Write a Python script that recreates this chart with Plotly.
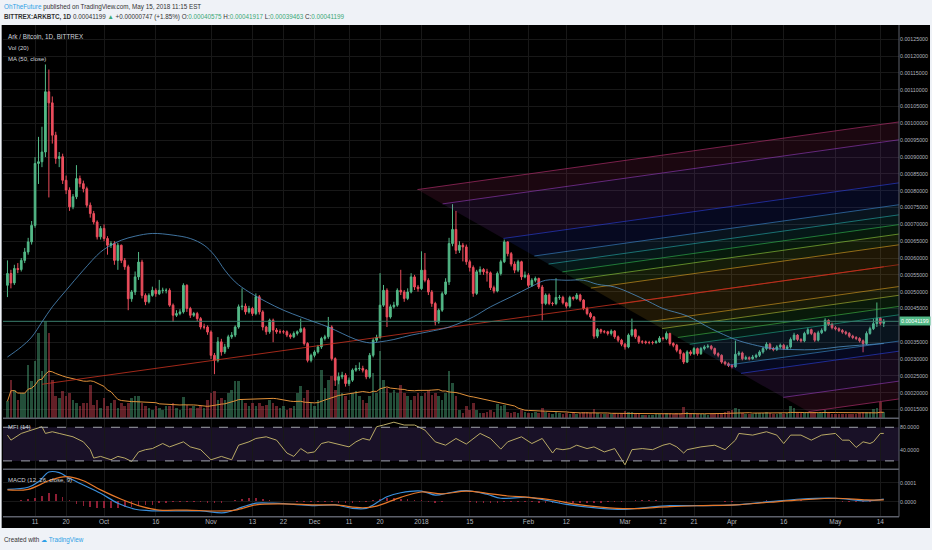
import numpy as np
import pandas as pd
import plotly.graph_objects as go

# ARK / BTC daily candles (BITTREX), 3 Sep 2017 .. 15 May 2018
# all prices in micro-BTC (1e-6 BTC)
START = pd.Timestamp("2017-09-03")
first_open = 519

closes = [
    554, 526, 569, 566, 593, 618, 648, 697, 881, 886,
    915, 1094, 1061, 965, 896, 901, 831, 802, 752, 782,
    836, 821, 806, 757, 732, 707, 663, 688, 658, 638,
    643, 593, 638, 593, 574, 479, 499, 544, 588, 489,
    470, 489, 504, 494, 504, 504, 504, 460, 430, 435,
    440, 519, 450, 430, 435, 420, 395, 395, 380, 311,
    296, 351, 321, 336, 366, 371, 395, 455, 457, 440,
    450, 435, 485, 440, 395, 381, 415, 386, 381, 381,
    381, 371, 366, 376, 381, 390, 346, 296, 311, 321,
    336, 361, 366, 395, 301, 237, 247, 252, 227, 237,
    267, 272, 272, 267, 247, 311, 356, 364, 460, 504,
    425, 455, 460, 504, 499, 480, 499, 544, 514, 509,
    564, 534, 499, 465, 410, 445, 494, 529, 643, 685,
    623, 638, 633, 589, 572, 495, 559, 566, 559, 556,
    512, 502, 554, 589, 648, 613, 582, 564, 589, 544,
    549, 519, 534, 539, 514, 465, 490, 465, 465, 483,
    483, 467, 457, 483, 480, 490, 475, 450, 435, 425,
    368, 387, 381, 381, 376, 383, 366, 356, 344, 336,
    371, 387, 366, 351, 351, 349, 349, 349, 351, 362,
    361, 376, 346, 341, 326, 316, 291, 321, 316, 331,
    316, 331, 336, 338, 331, 316, 311, 291, 286, 281,
    277, 314, 318, 301, 304, 301, 306, 311, 321, 331,
    344, 331, 328, 336, 341, 331, 336, 358, 371, 358,
    354, 376, 387, 376, 356, 378, 385, 415, 403, 393,
    390, 385, 380, 376, 368, 364, 361, 354, 346, 376,
    390, 405, 421, 406, 412,
]
highs = [
    593, 565, 580, 585, 600, 630, 660, 710, 900, 960,
    990, 1175, 1160, 1080, 975, 915, 910, 845, 810, 790,
    876, 845, 830, 812, 765, 740, 712, 695, 700, 665,
    650, 650, 645, 640, 600, 580, 505, 560, 618, 595,
    495, 495, 515, 510, 535, 512, 510, 510, 465, 445,
    448, 525, 522, 455, 440, 440, 425, 405, 400, 385,
    318, 365, 360, 345, 372, 380, 400, 462, 510, 465,
    458, 455, 495, 490, 445, 398, 420, 420, 392, 388,
    386, 385, 376, 382, 385, 420, 395, 350, 316, 326,
    342, 366, 372, 425, 400, 305, 260, 262, 258, 245,
    272, 282, 290, 280, 270, 318, 362, 372, 555, 520,
    510, 462, 470, 510, 565, 505, 510, 555, 550, 520,
    620, 615, 540, 505, 470, 450, 500, 540, 660, 760,
    740, 650, 645, 640, 595, 578, 565, 575, 570, 568,
    560, 518, 560, 595, 655, 650, 618, 590, 595, 592,
    560, 555, 540, 545, 542, 520, 495, 495, 470, 540,
    490, 488, 470, 488, 486, 496, 494, 478, 455, 440,
    428, 392, 390, 386, 384, 388, 386, 370, 360, 348,
    376, 420, 390, 370, 356, 355, 354, 354, 356, 368,
    366, 382, 378, 350, 345, 330, 320, 326, 326, 336,
    334, 336, 341, 344, 342, 334, 320, 314, 295, 290,
    285, 355, 324, 322, 310, 308, 312, 316, 326, 336,
    350, 348, 336, 341, 346, 345, 342, 364, 378, 374,
    362, 381, 393, 390, 380, 384, 391, 421, 418, 408,
    398, 394, 389, 384, 380, 372, 368, 365, 358, 382,
    396, 420, 468, 425, 419,
]
lows = [
    484, 510, 520, 555, 560, 585, 610, 640, 690, 820,
    870, 900, 780, 940, 880, 870, 820, 790, 740, 745,
    775, 810, 795, 750, 720, 700, 655, 655, 650, 610,
    630, 580, 565, 585, 565, 445, 470, 490, 535, 480,
    460, 465, 485, 485, 490, 495, 495, 455, 410, 425,
    430, 435, 440, 422, 425, 412, 388, 388, 372, 300,
    255, 290, 310, 315, 330, 360, 365, 390, 445, 432,
    435, 428, 430, 432, 385, 372, 375, 350, 375, 375,
    375, 365, 360, 362, 370, 378, 340, 290, 290, 305,
    316, 330, 355, 360, 295, 220, 225, 240, 218, 220,
    232, 262, 265, 260, 240, 242, 305, 350, 360, 455,
    395, 420, 450, 455, 490, 470, 475, 495, 505, 500,
    505, 528, 490, 455, 400, 405, 440, 490, 520, 635,
    612, 615, 590, 580, 560, 485, 490, 550, 550, 530,
    505, 495, 498, 548, 585, 605, 575, 555, 558, 535,
    540, 512, 514, 528, 508, 415, 460, 460, 458, 460,
    476, 462, 450, 452, 474, 476, 470, 445, 430, 420,
    360, 362, 375, 376, 370, 370, 360, 350, 338, 328,
    332, 366, 360, 345, 345, 344, 344, 343, 345, 348,
    355, 356, 340, 335, 320, 300, 285, 288, 310, 312,
    310, 312, 326, 332, 326, 311, 305, 286, 281, 276,
    272, 274, 309, 296, 297, 296, 298, 302, 306, 316,
    326, 327, 323, 324, 331, 327, 327, 331, 354, 353,
    349, 350, 372, 371, 351, 352, 374, 381, 398, 388,
    385, 380, 375, 371, 363, 359, 356, 349, 320, 342,
    372, 386, 395, 400, 395,
]
# volume, relative units
volumes = [
    17, 38, 28, 18, 25, 25, 53, 37, 57, 85,
    47, 97, 85, 38, 22, 20, 27, 22, 25, 18,
    15, 12, 15, 15, 33, 13, 18, 10, 20, 12,
    15, 18, 10, 15, 12, 15, 20, 22, 22, 15,
    12, 10, 8, 12, 10, 8, 12, 12, 15, 10,
    8, 21, 13, 10, 12, 10, 12, 10, 18, 25,
    27, 18, 20, 18, 25, 28, 37, 37, 18, 15,
    12, 15, 12, 15, 12, 13, 18, 15, 12, 10,
    12, 8, 10, 12, 25, 32, 20, 28, 15, 12,
    18, 48, 30, 38, 42, 28, 42, 25, 22, 18,
    25, 27, 22, 18, 15, 22, 45, 25, 67, 38,
    30, 25, 28, 25, 33, 25, 22, 18, 22, 25,
    22, 25, 28, 23, 25, 22, 18, 25, 47, 35,
    22, 8, 5, 12, 8, 15, 8, 5, 5, 6,
    8, 6, 14, 12, 13, 6, 5, 6, 5, 8,
    6, 5, 5, 6, 5, 10, 6, 5, 4, 6,
    5, 4, 5, 4, 5, 4, 5, 6, 6, 5,
    9, 5, 4, 4, 4, 4, 5, 4, 5, 7,
    6, 6, 4, 4, 3, 3, 3, 3, 4, 4,
    4, 5, 5, 4, 5, 5, 11, 6, 5, 5,
    4, 4, 4, 3, 4, 4, 4, 5, 6, 7,
    8, 10, 9, 5, 4, 4, 4, 5, 5, 5,
    6, 5, 4, 4, 5, 4, 5, 12, 10, 6,
    5, 6, 6, 5, 6, 5, 6, 8, 5, 4,
    4, 4, 4, 4, 4, 4, 4, 5, 6, 6,
    6, 9, 10, 16, 6,
]

# MA (50, close) as drawn, day index from START
ma50_days = [0, 4, 7, 10, 13, 17, 22, 27, 30, 33, 37, 42, 48, 53, 57, 60, 63, 66, 70, 75,
             80, 85, 89, 93, 97, 101, 105, 108, 112, 117, 122, 128, 135, 140, 146, 152, 156,
             162, 167, 171, 176, 181, 186, 190, 197, 204, 211, 216, 222, 228, 234, 241, 247, 254]
ma50_vals = [306, 336, 365, 410, 455, 504, 564, 618, 638, 653, 665, 673, 668, 658, 638, 608, 564, 529, 499, 470,
             445, 425, 410, 395, 376, 358, 348, 351, 358, 371, 381, 395, 425, 455, 485, 516, 534,
             534, 534, 522, 514, 494, 470, 450, 428, 390, 358, 343, 331, 328, 328, 336, 341, 346]

# MFI (14)
mfi_days = [0, 1, 4, 7, 10, 11, 13, 15, 19, 22, 24, 25, 27, 30, 32, 34, 36, 38, 40, 42,
            45, 47, 51, 53, 56, 59, 62, 65, 67, 70, 72, 75, 78, 81, 83, 85, 87, 89, 91, 93,
            95, 99, 101, 103, 105, 107, 109, 112, 115, 118, 121, 124, 127, 130, 133, 137, 140, 143, 145, 149,
            152, 155, 158, 159, 161, 163, 165, 168, 170, 173, 176, 179, 181, 184, 187, 190, 192, 194, 196, 197,
            201, 205, 208, 211, 212, 216, 220, 223, 225, 227, 230, 233, 236, 240, 242, 244, 246, 248, 250, 251,
            253, 254]
mfi_vals = [66, 57, 69, 75, 81, 69, 72, 69, 63, 54, 40, 25, 28, 22, 28, 25, 19, 36, 40, 42,
            51, 45, 54, 45, 40, 22, 28, 22, 48, 54, 60, 63, 57, 34, 28, 42, 34, 36, 51, 54,
            51, 45, 54, 60, 57, 81, 84, 89, 84, 84, 75, 54, 48, 60, 50, 69, 60, 41, 54, 63,
            51, 60, 34, 42, 40, 42, 48, 42, 45, 36, 42, 13, 40, 42, 40, 48, 51, 45, 34, 40,
            45, 48, 40, 57, 69, 66, 72, 66, 51, 66, 66, 57, 66, 69, 57, 57, 44, 54, 51, 54,
            69, 69]

# MACD (12, 26, close, 9), micro-BTC
macd_days = [0, 6, 9, 12, 15, 18, 22, 27, 32, 37, 41, 48, 56, 63, 68, 72, 77, 83, 89, 95, 100, 104,
             106, 110, 114, 120, 124, 128, 133, 139, 143, 151, 158, 162, 172, 179, 192, 201, 211, 221,
             230, 240, 249, 254]
macd_vals = [65, 76, 105, 156, 153, 123, 88, 44, -8, -40, -47, -49, -49, -58, -29, -8, -8, -14, -21, -17, -35, -35,
             -17, 26, 47, 56, 35, 47, 58, 39, 18, 23, 0, -14, -35, -40, -21, -21, -17, 0,
             14, 18, 4, 13]
signal_days = [0, 6, 12, 17, 22, 27, 33, 39, 44, 52, 60, 66, 72, 80, 89, 95, 103, 107, 114, 120, 126,
               133, 139, 145, 151, 158, 164, 172, 180, 192, 201, 211, 221, 230, 240, 249, 254]
signal_vals = [62, 65, 110, 132, 110, 62, 13, -26, -44, -44, -49, -44, -17, -12, -17, -17, -32, -23, 23, 51, 41,
               56, 44, 30, 23, 9, -12, -29, -37, -26, -21, -17, -3, 9, 18, 9, 9]
# histogram, every second day (day 0, 2, 4 ... 254)
hist_vals = [3, 4, 6, 10, 17, 30, 42, 39, 25, 5,
             -14, -22, -28, -33, -35, -37, -36, -32, -28, -23,
             -20, -17, -11, -7, -5, -4, -3, -4, -5, -7,
             -8, -6, 2, 8, 14, 17, 16, 12, 8, 4,
             2, 0, -2, -4, -5, -4, -2, -3, -6, -7,
             -6, -4, -1, 5, 12, 17, 16, 14, 10, 8,
             5, -2, -6, -4, 2, 3, 0, -3, -6, -7,
             -8, -6, -3, -2, -2, -3, -5, -7, -9, -10,
             -9, -8, -7, -6, -6, -7, -6, -5, -4, -3,
             2, 5, 6, 5, 5, 4, 3, 2, 0, 0,
             1, 1, 0, 0, -1, -1, 2, 3, 4, 4,
             5, 4, 4, 4, 5, 5, 4, 3, 2, 1,
             0, -2, -3, -4, -4, -2, 1, 3]

# drawings: trend line + fib channel (levels valued on 2018-05-15 = day 254)
trend_days = [10, 254]
trend_vals = [225, 574]
chan_levels = [998, 945, 817, 752, 722, 693, 665, 633, 574, 509, 483, 450, 425, 347, 317, 228, 175]
chan_colors = ["#b4306e", "#8e3bb4", "#2b3fd4", "#3a86c8", "#25a3a3", "#2fb04e", "#8cc43a", "#d39a22",
               "#c8321f", "#d39a22", "#a9b534", "#3fb044", "#21a283", "#3a86c8", "#2b3fd4", "#8e3bb4", "#b4306e"]
chan_slope = 1.44            # per day
chan_edge = (119.06, 802)    # left edge of the channel (diagonal)
chan_edge_slope = -5.82
last_price = 0.00041199

x_tick_dates = ["2017-09-11", "2017-09-20", "2017-10-01", "2017-10-16", "2017-11-01", "2017-11-13",
                "2017-11-22", "2017-12-01", "2017-12-11", "2017-12-20", "2018-01-01", "2018-01-15",
                "2018-02-01", "2018-02-12", "2018-03-01", "2018-03-12", "2018-03-21", "2018-04-01",
                "2018-04-16", "2018-05-01", "2018-05-14"]
x_tick_text = ["11", "20", "Oct", "16", "Nov", "13", "22", "Dec", "11", "20", "2018", "15",
               "Feb", "12", "Mar", "12", "21", "Apr", "16", "May", "14"]
price_ticks = [150, 200, 250, 300, 350, 400, 450, 500, 550, 600, 650, 700, 750, 800, 850, 900,
               950, 1000, 1050, 1100, 1150, 1200, 1250]

assert len(closes) == len(highs) == len(lows) == len(volumes) == 255
assert len(ma50_days) == len(ma50_vals) and len(mfi_days) == len(mfi_vals)
assert len(macd_days) == len(macd_vals) and len(signal_days) == len(signal_vals)
assert len(hist_vals) == 128

UP = "#53b987"
DOWN = "#eb4d5c"
TXT = "#b2b5be"
FONT = "Liberation Sans, Arial, sans-serif"
U = 1e-6


def to_date(d):
    return START + pd.to_timedelta(np.asarray(d, dtype=float), unit="D")


def rgba(hexcol, a):
    h = hexcol.lstrip("#")
    return "rgba(%d,%d,%d,%s)" % (int(h[0:2], 16), int(h[2:4], 16), int(h[4:6], 16), a)


dates = to_date(np.arange(len(closes)))
opens = [first_open] + closes[:-1]
vol_colors = [rgba(UP, 0.42) if c >= o else rgba(DOWN, 0.42) for o, c in zip(opens, closes)]
vol_ma = pd.Series(volumes).rolling(20, min_periods=1).mean()

view = [pd.Timestamp("2017-09-01 17:00"), pd.Timestamp("2018-05-19 10:00")]

fig = go.Figure()

# volume pane (base axis of main pane)
fig.add_trace(go.Bar(x=dates, y=volumes, marker=dict(color=vol_colors, line=dict(width=0)),
                     width=0.75 * 86400000, yaxis="y", hoverinfo="skip"))
fig.add_trace(go.Scatter(x=dates, y=vol_ma, mode="lines", line=dict(color="#e0913a", width=1),
                         yaxis="y", hoverinfo="skip"))

# fib channel bands + lines
chan_end = 262


def chan_start(level):
    # where a level line meets the diagonal left edge
    d0, p0 = chan_edge
    return (level - chan_slope * 254 - p0 + chan_edge_slope * d0) / (chan_edge_slope - chan_slope)


def chan_val(level, d):
    return level + chan_slope * (d - 254)


red_idx = chan_levels.index(574)
for i in range(len(chan_levels) - 1):
    a, b = chan_levels[i], chan_levels[i + 1]
    sa, sb = chan_start(a), chan_start(b)
    col = chan_colors[i] if i < red_idx else chan_colors[i + 1]
    xs = to_date([sa, chan_end, chan_end, sb, sa])
    ys = [chan_val(a, sa), chan_val(a, chan_end), chan_val(b, chan_end), chan_val(b, sb), chan_val(a, sa)]
    fig.add_trace(go.Scatter(x=xs, y=np.array(ys) * U, mode="lines", fill="toself",
                             fillcolor=rgba(col, 0.15), line=dict(width=0), yaxis="y2", hoverinfo="skip"))
for lvl, col in zip(chan_levels, chan_colors):
    s = chan_start(lvl)
    fig.add_trace(go.Scatter(x=to_date([s, chan_end]), y=np.array([chan_val(lvl, s), chan_val(lvl, chan_end)]) * U,
                             mode="lines", line=dict(color=rgba(col, 0.65), width=1), yaxis="y2", hoverinfo="skip"))

fig.add_trace(go.Scatter(x=to_date(trend_days), y=np.array(trend_vals) * U, mode="lines",
                         line=dict(color="rgba(200,50,31,0.8)", width=1), yaxis="y2", hoverinfo="skip"))
fig.add_trace(go.Scatter(x=view, y=[last_price, last_price], mode="lines",
                         line=dict(color="#3a7d6c", width=1), yaxis="y2", hoverinfo="skip"))
fig.add_trace(go.Scatter(x=to_date(ma50_days), y=np.array(ma50_vals) * U, mode="lines",
                         line=dict(color="rgba(79,143,196,0.8)", width=1, shape="spline"), yaxis="y2",
                         hoverinfo="skip"))

fig.add_trace(go.Candlestick(
    x=dates, open=np.array(opens) * U, high=np.array(highs) * U, low=np.array(lows) * U,
    close=np.array(closes) * U, yaxis="y2", whiskerwidth=0,
    increasing=dict(line=dict(color=UP, width=1), fillcolor=UP),
    decreasing=dict(line=dict(color=DOWN, width=1), fillcolor=DOWN),
    hoverinfo="skip"))

# MFI pane
fig.add_trace(go.Scatter(x=to_date(mfi_days), y=mfi_vals, mode="lines",
                         line=dict(color="#b9aa66", width=1), yaxis="y3", hoverinfo="skip"))

# MACD pane
fig.add_trace(go.Bar(x=to_date(np.arange(0, 255, 2)), y=np.array(hist_vals) * U, width=0.45 * 86400000,
                     marker=dict(color="rgba(190,40,70,0.75)", line=dict(width=0)), yaxis="y4", hoverinfo="skip"))
fig.add_trace(go.Scatter(x=to_date(macd_days), y=np.array(macd_vals) * U, mode="lines",
                         line=dict(color="#3a8fdc", width=1.2, shape="spline"), yaxis="y4", hoverinfo="skip"))
fig.add_trace(go.Scatter(x=to_date(signal_days), y=np.array(signal_vals) * U, mode="lines",
                         line=dict(color="#e6782a", width=1.2, shape="spline"), yaxis="y4", hoverinfo="skip"))

GRID = "#181818"
MAIN = [0.2181, 1.0]
MFI = [0.1167, 0.2181]
MACD = [0.0225, 0.1167]

price_text = ["" if p == 400 else "%.8f" % (p * U) for p in price_ticks]

fig.update_layout(
    width=932, height=550,
    margin=dict(l=3, r=33, t=25, b=22),
    paper_bgcolor="#eff2f7", plot_bgcolor="#000000",
    showlegend=False, bargap=0,
    font=dict(family=FONT, size=6, color=TXT),
    xaxis=dict(type="date", range=view, anchor="y4", tickvals=x_tick_dates, ticktext=x_tick_text,
               showgrid=True, gridcolor=GRID, gridwidth=1, zeroline=False, showline=False,
               ticks="", tickfont=dict(size=6.5, color=TXT), rangeslider=dict(visible=False),
               fixedrange=True),
    yaxis=dict(domain=MAIN, range=[0, 393], visible=False, showgrid=False, fixedrange=True),
    yaxis2=dict(overlaying="y", side="right", range=[123.9 * U, 1292.3 * U],
                tickvals=np.array(price_ticks) * U, ticktext=price_text, showgrid=True, gridcolor=GRID,
                zeroline=False, ticks="", tickfont=dict(size=5.3, color=TXT), fixedrange=True),
    yaxis3=dict(domain=MFI, anchor="x", side="right", range=[5, 96], tickvals=[80, 40],
                ticktext=["80.0000", "40.0000"], showgrid=False, zeroline=False, ticks="",
                tickfont=dict(size=5.3, color=TXT), fixedrange=True),
    yaxis4=dict(domain=MACD, anchor="x", side="right", range=[-79 * U, 170.5 * U], tickvals=[100 * U, 0],
                ticktext=["0.0001", "0.0000"], showgrid=True, gridcolor=GRID, zeroline=False, ticks="",
                tickfont=dict(size=5.3, color=TXT), fixedrange=True),
)

shapes = [
    dict(type="rect", xref="paper", yref="paper", x0=-0.0015, x1=1.0346, y0=0, y1=1,
         fillcolor="#000000", line=dict(width=0), layer="below"),
    dict(type="rect", xref="paper", yref="y3", x0=0, x1=1, y0=20, y1=80,
         fillcolor="rgba(126,87,194,0.2)", line=dict(width=0), layer="below"),
    dict(type="line", xref="paper", yref="y3", x0=0, x1=1, y0=80, y1=80,
         line=dict(color="#a0a3ab", width=1, dash="dash")),
    dict(type="line", xref="paper", yref="y3", x0=0, x1=1, y0=20, y1=20,
         line=dict(color="#a0a3ab", width=1, dash="dash")),
]
for yp in (MFI[1], MACD[1], MACD[0]):
    shapes.append(dict(type="line", xref="paper", yref="paper", x0=0, x1=1, y0=yp, y1=yp,
                       line=dict(color="#5d606b", width=1.5)))
shapes.append(dict(type="line", xref="paper", yref="paper", x0=1, x1=1, y0=MACD[0], y1=1,
                   line=dict(color="#5d606b", width=1)))
fig.update_layout(shapes=shapes)

G = "color:#3aa876"
ann = [
    dict(x=-0.001, y=1.0358, text="<span style='color:#2e9fe6'>OhTheFuture</span> published on TradingView.com, May 15, 2018 11:15 EST",
         font=dict(size=6.3, color="#333333")),
    dict(x=-0.001, y=1.0159,
         text=("<b>BITTREX:ARKBTC, 1D</b> 0.00041199 <span style='%s'>▲</span> +0.00000747 (+1.85%%) "
               "O:<span style='%s'>0.00040575</span> H:<span style='%s'>0.00041917</span> "
               "L:<span style='%s'>0.00039463</span> C:<span style='%s'>0.00041199</span>") % (G, G, G, G, G),
         font=dict(size=6.3, color="#333333")),
    dict(x=0.003, y=0.9781, text="Ark / Bitcoin, 1D, BITTREX", font=dict(size=6.3, color="#d1d4dc")),
    dict(x=0.003, y=0.9543, text="Vol (20)", font=dict(size=6, color="#d1d4dc")),
    dict(x=0.003, y=0.9324, text="MA (50, close)", font=dict(size=6, color="#d1d4dc")),
    dict(x=0.003, y=0.2008, text="MFI (14)", font=dict(size=6, color="#d1d4dc")),
    dict(x=0.003, y=0.0954, text="MACD (12, 26, close, 9)", font=dict(size=6, color="#d1d4dc")),
    dict(x=-0.001, y=-0.0239, text="Created with <span style='color:#2e9fe6'>☁ TradingView</span>",
         font=dict(size=6.3, color="#333333")),
]
for a in ann:
    a.update(xref="paper", yref="paper", xanchor="left", yanchor="middle", showarrow=False)
ann.append(dict(xref="paper", yref="y2", x=1.0, y=last_price, xanchor="left", yanchor="middle",
                text="0.00041199", showarrow=False, bgcolor=UP, borderpad=1,
                font=dict(size=5.3, color="#ffffff")))
fig.update_layout(annotations=ann)

fig.write_html("out.html", config={"displayModeBar": False},
               post_script="document.body.style.margin='0';")
